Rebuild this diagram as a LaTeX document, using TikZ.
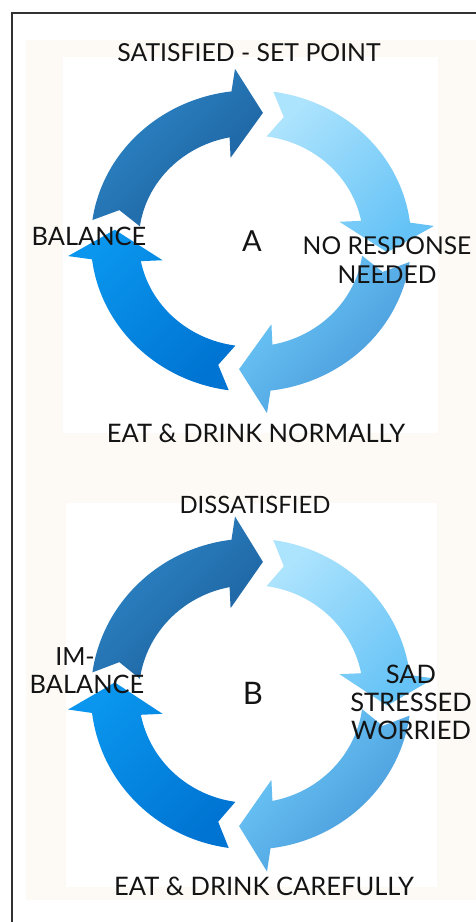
\documentclass[tikz,border=0pt]{standalone}
\usepackage{fontspec}
\setmainfont{Lato}
\usetikzlibrary{calc}

\definecolor{cream}{RGB}{253,250,245}
\definecolor{framegray}{RGB}{50,50,50}
\definecolor{inktext}{RGB}{20,20,20}
% arrow colours: dark (top), pale (right), mid (bottom), bright (left)
\definecolor{darkA}{RGB}{46,136,200}
\definecolor{darkB}{RGB}{28,94,156}
\definecolor{paleA}{RGB}{172,227,253}
\definecolor{paleB}{RGB}{100,194,246}
\definecolor{midA}{RGB}{112,204,250}
\definecolor{midB}{RGB}{68,148,214}
\definecolor{brightA}{RGB}{10,150,238}
\definecolor{brightB}{RGB}{0,116,210}

% one curved chevron arrow of the cycle; #1 = angle offset, #2 = fill style
\newcommand{\ringarrow}[2]{%
  \shade[#2]
    (172+#1:157) arc[start angle=172+#1, end angle=97+#1, radius=157]
    -- (95+#1:180) -- (85+#1:134) -- (103+#1:89)
    -- (101+#1:110) arc[start angle=101+#1, end angle=172+#1, radius=110]
    -- (166+#1:133) -- cycle;}

% four arrows around a centre; #1 = centre, #2 = horizontal scale, #3 = vertical scale
\newcommand{\cyclering}[3]{%
  \begin{scope}[shift={#1}, xscale=#2, yscale=-#3]
    \ringarrow{0}{arrowtop}
    \ringarrow{270}{arrowright}
    \ringarrow{180}{arrowbottom}
    \ringarrow{90}{arrowleft}
  \end{scope}}

\tikzset{
  arrowtop/.style={left color=darkA, right color=darkB, shading angle=45},
  arrowright/.style={left color=paleA, right color=paleB, shading angle=45},
  arrowbottom/.style={left color=midA, right color=midB, shading angle=45},
  arrowleft/.style={left color=brightA, right color=brightB, shading angle=45},
  lbl/.style={inner sep=0pt, text=inktext, align=center},
  framebox/.style={draw=framegray, line width=1.4pt}
}

\begin{document}
\begin{tikzpicture}[x=1pt, y=-1pt]
  \useasboundingbox (0,0) rectangle (476,922);
  \fill[white] (0,0) rectangle (476,922);
  \fill[cream] (26,40) rectangle (476,900);
  \fill[white] (63,57) rectangle (438,433);
  \fill[white] (66,503) rectangle (437,887);
  \draw[framebox] (476,13) -- (12,13) -- (12,922);

  % cycle A
  \cyclering{(251,241)}{1.02}{0.96}
  \node[lbl, font=\fontsize{24.8}{28}\selectfont] (satA) at (249,53) {SATISFIED - SET POINT};
  \node[lbl, font=\fontsize{25.4}{28}\selectfont] (balA) at (89,236) {BALANCE};
  \node[lbl, font=\fontsize{29}{32}\selectfont] (lblA) at (252,241) {A};
  \node[lbl, font=\fontsize{24.6}{29}\selectfont] (noresp) at (387,260.5) {NO RESPONSE\\NEEDED};
  \node[lbl, font=\fontsize{25.5}{28}\selectfont] (eatA) at (256,433) {EAT \& DRINK NORMALLY};

  % cycle B
  \cyclering{(251,694)}{1.02}{0.99}
  \node[lbl, font=\fontsize{23.9}{28}\selectfont] (dissat) at (255,505) {DISSATISFIED};
  \node[lbl, font=\fontsize{25}{28}\selectfont] (imbal) at (75,657) {IM-};
  \node[lbl, font=\fontsize{25.4}{28}\selectfont] (balB) at (87,684) {BALANCE};
  \node[lbl, font=\fontsize{31}{34}\selectfont] (lblB) at (253,693) {B};
  \node[lbl, font=\fontsize{25.5}{28}\selectfont] (sad) at (411,702) {SAD\\STRESSED\\WORRIED};
  \node[lbl, font=\fontsize{25.5}{28}\selectfont] (eatB) at (264,886) {EAT \& DRINK CAREFULLY};
\end{tikzpicture}
\end{document}
